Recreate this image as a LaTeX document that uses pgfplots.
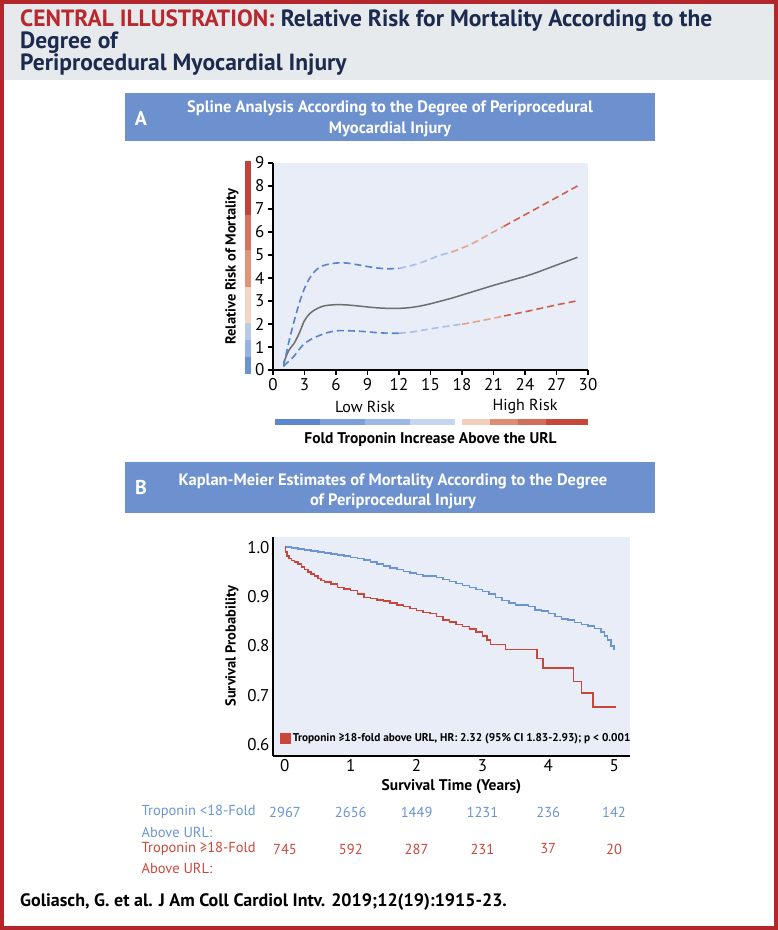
\documentclass[border=0pt]{standalone}
\usepackage{pgfplots}
\pgfplotsset{compat=1.18}
\usepackage{fontspec}
\setmainfont{PT Sans}
\setsansfont{PT Sans}

\definecolor{frame}{HTML}{B3262C}
\definecolor{hdrgray}{HTML}{E6EAEC}
\definecolor{navy}{HTML}{1D2A4F}
\definecolor{titlered}{HTML}{B8282F}
\definecolor{panelblue}{HTML}{6C91CE}
\definecolor{plotbg}{HTML}{E8EDF7}
\definecolor{kmblue}{HTML}{6A94D4}
\definecolor{kmred}{HTML}{C9473A}
\definecolor{ciblue}{HTML}{5884CA}
\definecolor{cilblue}{HTML}{A8BFE6}
\definecolor{cipeach}{HTML}{E4A48C}
\definecolor{cired}{HTML}{D0604C}
\definecolor{solidgray}{HTML}{6E6E6E}
\definecolor{va}{HTML}{C1443A}
\definecolor{vb}{HTML}{D4735E}
\definecolor{vc}{HTML}{E09478}
\definecolor{vd}{HTML}{F3D5C4}
\definecolor{ve}{HTML}{B8CAEA}
\definecolor{vf}{HTML}{97B2E1}
\definecolor{vg}{HTML}{6B92D3}
\definecolor{ha}{HTML}{5B87CE}
\definecolor{hb}{HTML}{7B9FD9}
\definecolor{hc}{HTML}{9DB8E4}
\definecolor{hd}{HTML}{C5D4EF}
\definecolor{he}{HTML}{F2CDBB}
\definecolor{hf}{HTML}{DE8C74}
\definecolor{hg}{HTML}{D26F5A}
\definecolor{hh}{HTML}{C4493A}

\newcommand\fsz[1]{\fontsize{#1}{#1}\selectfont}

\begin{document}
\begin{tikzpicture}[x=1pt,y=1pt]
\path[use as bounding box] (0,0) rectangle (778,930);

% header band and frame
\fill[hdrgray] (0,926) rectangle (778,850);
\draw[frame, line width=4pt] (2,2) rectangle (776,928);

\node[anchor=base west, inner sep=0, text=titlered] (ci) at (20,930-27)
  {\fsz{23.5}\bfseries CENTRAL ILLUSTRATION:};
\node[anchor=base west, inner sep=0, text=navy] at ([xshift=6pt]ci.base east)
  {\fsz{23.5}\bfseries Relative Risk for Mortality According to the};
\node[anchor=base west, inner sep=0, text=navy] at (20,930-49) {\fsz{23.5}\bfseries Degree of};
\node[anchor=base west, inner sep=0, text=navy] at (20,930-71) {\fsz{23.5}\bfseries Periprocedural Myocardial Injury};

% panel A header
\fill[panelblue] (125,930-141) rectangle (655,930-93);
\node[text=white, anchor=center] at (141,930-118) {\fsz{20}\bfseries A};
\node[text=white, align=center, anchor=center, font=\fontsize{16.5}{21}\selectfont\bfseries]
  at (390,930-119) {Spline Analysis According to the Degree of Periprocedural\\Myocardial Injury};

% panel B header
\fill[panelblue] (125,930-513) rectangle (655,930-462);
\node[text=white, anchor=center] at (141,930-488) {\fsz{20}\bfseries B};
\node[text=white, align=center, anchor=center, font=\fontsize{16.5}{20}\selectfont\bfseries]
  at (393,930-491) {Kaplan-Meier Estimates of Mortality According to the Degree\\of Periprocedural Injury};

% vertical risk colour bar beside panel A
\fill[va] (245,930-161) rectangle (250.5,930-215);
\fill[vb] (245,930-215) rectangle (250.5,930-250);
\fill[vc] (245,930-250) rectangle (250.5,930-287);
\fill[vd] (245,930-287) rectangle (250.5,930-323);
\fill[ve] (245,930-323) rectangle (250.5,930-340);
\fill[vf] (245,930-340) rectangle (250.5,930-357);
\fill[vg] (245,930-357) rectangle (250.5,930-374);

% horizontal risk bars
\fill[ha] (275,930-419.5) rectangle (320,930-425);
\fill[hb] (320,930-419.5) rectangle (365,930-425);
\fill[hc] (365,930-419.5) rectangle (410,930-425);
\fill[hd] (410,930-419.5) rectangle (455,930-425);
\fill[he] (462,930-419.5) rectangle (490,930-425);
\fill[hf] (490,930-419.5) rectangle (518,930-425);
\fill[hg] (518,930-419.5) rectangle (546,930-425);
\fill[hh] (546,930-419.5) rectangle (588,930-425);
\node at (365,930-407) {\fsz{16}Low Risk};
\node at (525,930-407) {\fsz{16}High Risk};

% ---------- panel A: spline ----------
\begin{axis}[
  at={(273pt,560pt)}, anchor=south west,
  scale only axis, width=315pt, height=207pt,
  xmin=0, xmax=30, ymin=0, ymax=9,
  xtick={0,3,...,30}, ytick={0,1,...,9},
  axis x line*=bottom, axis y line*=left,
  axis line style={line width=1.6pt, black},
  tick align=outside, major tick length=5pt,
  tick style={black, line width=1.2pt},
  axis background/.style={fill=plotbg},
  tick label style={font=\fsz{17}},
  /pgf/number format/assume math mode=true,
  ylabel={\fsz{14.5}\bfseries Relative Risk of Mortality},
  ylabel style={at={(axis description cs:-0.130,0.5)}, anchor=center},
  xlabel={\fsz{15.5}\bfseries Fold Troponin Increase Above the URL},
  xlabel style={at={(axis description cs:0.5,-0.338)}, anchor=center},
  clip=false,
]
\addplot[solidgray, line width=1.5pt, smooth] coordinates {
 (1,0.3) (1.5,0.85) (2,1.15) (2.5,1.6) (3,2.15) (3.5,2.45) (4,2.62) (4.5,2.73)
 (5,2.8) (6,2.84) (7,2.83) (8,2.79) (9,2.74) (10,2.7) (11,2.68) (12,2.68)
 (13,2.71) (14,2.78) (15,2.88) (16,3.0) (17,3.12) (18,3.26) (19,3.4) (20,3.54)
 (21,3.68) (22,3.81) (23,3.94) (24,4.07) (25,4.22) (26,4.39) (27,4.56) (28,4.73) (29,4.9)};
% upper bound
\addplot[ciblue, line width=1.6pt, dash pattern=on 7pt off 4pt, smooth] coordinates {
 (1,0.15) (1.5,1.2) (2,2.1) (2.5,2.9) (3,3.55) (3.5,4.0) (4,4.3) (4.5,4.48) (5,4.57)
 (6,4.65) (7,4.65) (8,4.58) (9,4.5) (10,4.43) (11,4.4) (12,4.42)};
\addplot[cilblue, line width=1.6pt, dash pattern=on 7pt off 4pt, smooth] coordinates {
 (12,4.42) (13,4.52) (14,4.65) (15,4.83) (16,5.0) (17,5.12)};
\addplot[cipeach, line width=1.6pt, dash pattern=on 7pt off 4pt, smooth] coordinates {
 (17,5.12) (18,5.3) (19,5.5) (20,5.75) (21,6.0) (22,6.25)};
\addplot[cired, line width=1.6pt, dash pattern=on 7pt off 4pt, smooth] coordinates {
 (22,6.25) (23,6.5) (24,6.75) (25,7.0) (26,7.25) (27,7.5) (28,7.75) (29,8.0)};
% lower bound
\addplot[ciblue, line width=1.6pt, dash pattern=on 7pt off 4pt, smooth] coordinates {
 (1,0.17) (1.5,0.38) (2,0.6) (2.5,0.9) (3,1.15) (3.5,1.3) (4,1.42) (5,1.6) (6,1.7)
 (7,1.71) (8,1.69) (9,1.66) (10,1.62) (11,1.6) (12,1.6)};
\addplot[cilblue, line width=1.6pt, dash pattern=on 7pt off 4pt, smooth] coordinates {
 (12,1.6) (13,1.64) (14,1.71) (15,1.79) (16,1.86) (17,1.93) (18,1.99)};
\addplot[cipeach, line width=1.6pt, dash pattern=on 7pt off 4pt, smooth] coordinates {
 (18,1.99) (19,2.07) (20,2.16) (21,2.25) (22,2.35)};
\addplot[cired, line width=1.6pt, dash pattern=on 7pt off 4pt, smooth] coordinates {
 (22,2.35) (23,2.44) (24,2.53) (25,2.63) (26,2.73) (27,2.83) (28,2.92) (29,3.01)};
\end{axis}

% ---------- panel B: Kaplan-Meier ----------
\begin{axis}[
  at={(273pt,174.3pt)}, anchor=south west,
  scale only axis, width=357pt, height=219pt,
  xmin=-0.18, xmax=5.24, ymin=0.578, ymax=1.021,
  xtick={0,1,...,5}, ytick={0.6,0.7,0.8,0.9,1.0},
  yticklabel style={/pgf/number format/.cd, fixed, fixed zerofill, precision=1},
  axis x line*=bottom, axis y line*=left,
  axis line style={line width=2pt, black},
  major tick length=0pt,
  axis background/.style={fill=plotbg},
  tick label style={font=\fsz{17}},
  /pgf/number format/assume math mode=true,
  ylabel={\fsz{14.5}\bfseries Survival Probability},
  ylabel style={at={(axis description cs:-0.115,0.5)}, anchor=center},
  xlabel={\fsz{15.5}\bfseries Survival Time (Years)},
  xlabel style={at={(axis description cs:0.5,-0.1416)}, anchor=center},
  legend style={at={(axis cs:-0.085,0.614)}, anchor=west, draw=none, fill=none,
    font=\fsz{11.3}\bfseries, inner sep=1pt},
  legend cell align=left,
  clip=false,
]
\addplot[draw=kmblue, line width=1.5pt, const plot, forget plot] coordinates {
 (0,1.000) (0.10,0.998) (0.20,0.996) (0.30,0.994) (0.40,0.992) (0.50,0.990)
 (0.60,0.988) (0.70,0.986) (0.80,0.984) (0.90,0.982) (1.00,0.979) (1.10,0.977)
 (1.20,0.974) (1.30,0.970) (1.40,0.966) (1.50,0.962) (1.60,0.958) (1.70,0.955)
 (1.80,0.951) (1.90,0.948) (2.00,0.945) (2.10,0.942) (2.20,0.941) (2.30,0.938)
 (2.40,0.934) (2.50,0.930) (2.60,0.926) (2.70,0.922) (2.80,0.918) (2.90,0.914)
 (3.00,0.910) (3.10,0.905) (3.20,0.898) (3.30,0.892) (3.40,0.887) (3.50,0.883)
 (3.70,0.880) (3.80,0.873) (3.90,0.871) (4.00,0.866) (4.10,0.860) (4.20,0.855)
 (4.30,0.853) (4.40,0.847) (4.50,0.843) (4.60,0.840) (4.70,0.835) (4.80,0.828)
 (4.85,0.820) (4.90,0.812) (4.95,0.800) (5.00,0.792)};
\addplot[draw=kmred, line width=1.5pt, const plot, forget plot] coordinates {
 (0,1.000) (0.01,0.990) (0.03,0.982) (0.06,0.977) (0.10,0.973) (0.15,0.970)
 (0.20,0.966) (0.25,0.960) (0.30,0.955) (0.35,0.950) (0.40,0.946) (0.45,0.941)
 (0.50,0.936) (0.55,0.932) (0.60,0.929) (0.70,0.925) (0.80,0.918) (0.90,0.915)
 (1.00,0.912) (1.10,0.905) (1.20,0.898) (1.30,0.896) (1.40,0.893) (1.50,0.891)
 (1.60,0.887) (1.70,0.883) (1.80,0.880) (1.90,0.876) (2.00,0.872) (2.10,0.868)
 (2.20,0.866) (2.30,0.860) (2.40,0.852) (2.50,0.848) (2.60,0.843) (2.70,0.839)
 (2.80,0.834) (2.90,0.828) (3.00,0.820) (3.07,0.812) (3.12,0.803) (3.35,0.793)
 (3.60,0.793) (3.83,0.775) (3.92,0.755) (4.15,0.755) (4.38,0.728) (4.50,0.705)
 (4.68,0.677) (5.02,0.677)};
\addlegendimage{legend image code/.code={\fill[kmred] (0pt,-5pt) rectangle (10pt,5pt);}}
\addlegendentry{Troponin ≥18-fold above URL, HR: 2.32 (95\% CI 1.83-2.93); p < 0.001}
\end{axis}

% ---------- numbers at risk ----------
\begin{scope}[every node/.style={font=\fsz{14.5}}]
\node[anchor=west, text=kmblue] at (138,930-812) {Troponin <18-Fold};
\node[anchor=west, text=kmblue] at (138,930-832) {Above URL:};
\node[anchor=west, text=kmred] at (138,930-849) {Troponin ≥18-Fold};
\node[anchor=west, text=kmred] at (138,930-868) {Above URL:};
\foreach \v [count=\i from 0] in {2967,2656,1449,1231,236,142}
  \node[text=kmblue] at (285+65.8*\i,930-812) {\v};
\foreach \v [count=\i from 0] in {745,592,287,231,37,20}
  \node[text=kmred] at (285+65.8*\i,930-849) {\v};
\end{scope}

\node[anchor=west, inner sep=0] at (20,930-902)
  {\fsz{18}\bfseries Goliasch, G. et al. J Am Coll Cardiol Intv. 2019;12(19):1915-23.};
\end{tikzpicture}
\end{document}
